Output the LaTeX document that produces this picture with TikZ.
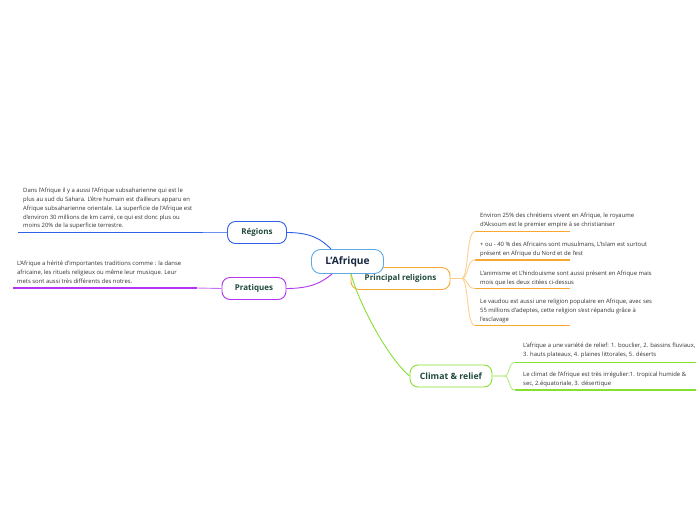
\documentclass[tikz,border=0pt]{standalone}
\usepackage{fontspec}
\setmainfont{Open Sans}
\usepackage{tikz}
\usetikzlibrary{positioning,calc}
\definecolor{zentral}{HTML}{5FA8E0}
\definecolor{blau}{HTML}{2F62E8}
\definecolor{lila}{HTML}{B233F0}
\definecolor{orange}{HTML}{F7A934}
\definecolor{gruen}{HTML}{86E032}
\definecolor{titel}{HTML}{1F4A3C}
\definecolor{haupt}{HTML}{17263F}
\definecolor{text}{HTML}{333333}
\tikzset{
  thema/.style={rounded corners=8pt,fill=white,line width=0.9pt,minimum height=22pt,
    inner sep=0pt,font=\fontsize{8}{9}\selectfont\bfseries,text=titel},
  mitte/.style={rounded corners=9pt,fill=white,draw=zentral,line width=0.9pt,minimum height=24pt,
    minimum width=72pt,inner sep=0pt,font=\fontsize{10.2}{11}\selectfont\bfseries,text=haupt},
  notiz/.style={anchor=north west,inner sep=0pt,align=left,text=text,
    font=\fontsize{5.9}{8.8}\selectfont},
  strich/.style={line width=1.6pt},
  ast/.style={line width=0.9pt},
}
\begin{document}
\begin{tikzpicture}[x=1pt,y=-1pt]
  \useasboundingbox (0,0) rectangle (696,520);
  % --- Hauptknoten ---
  \node[thema,draw=orange,minimum width=99pt] (rel) at (400.5,278.5) {Principal religions};
  \node[mitte] (afr) at (347.5,261.5) {L'Afrique};
  \node[thema,draw=blau,minimum width=59pt] (reg) at (257,232.5) {Régions};
  \node[thema,draw=lila,minimum width=64pt] (pra) at (254,288.5) {Pratiques};
  \node[thema,draw=gruen,minimum width=82pt,font=\fontsize{8.7}{9}\selectfont\bfseries] (cli) at (451,376) {Climat \& relief};
  % --- Äste vom Zentrum ---
  \draw[ast,blau] (reg.east) .. controls (312,232.5) and (322,240) .. ($(afr.north west)+(20,0)$);
  \draw[ast,lila] (pra.east) .. controls (312,288.5) and (322,282) .. ($(afr.south west)+(21,0)$);
  \draw[ast,gruen] ($(afr.south west)+(40,0)$) .. controls (357,298) and (385,355) .. (cli.west);
  % --- Régions ---
  \node[notiz] (regt) at (23,188) {Dans l'Afrique il y a aussi l'Afrique subsaharienne qui est le\\
    plus au sud du Sahara. L'être humain est d'ailleurs apparu en\\
    Afrique subsaharienne orientale. La superficie de l'Afrique est\\
    d'environ 30 millions de km carré, ce qui est donc plus ou\\
    moins 20\% de la superficie terrestre.};
  \coordinate (r1) at (18,232.5);
  \coordinate (r2) at (203,232.5);
  \draw[strich,blau] (r1)--(r2);
  \draw[ast,blau!70] (r2)--(reg.west);
  % --- Pratiques ---
  \node[notiz] (prat) at (17,261) {L'Afrique a hérité d'importantes traditions comme : la danse\\
    africaine, les rituels religieux ou même leur musique. Leur\\
    mets sont aussi très différents des notres.};
  \coordinate (p1) at (13,288);
  \coordinate (p2) at (197,288);
  \draw[strich,lila] (p1)--(p2);
  \draw[ast,lila!70] (p2)--(pra.west);
  % --- Religions ---
  \node[notiz] (rel1) at (480,212.5) {Environ 25\% des chrétiens vivent en Afrique, le royaume\\
    d'Aksoum est le premier empire à se christianiser};
  \node[notiz] (rel2) at (480,242) {+ ou - 40 \% des Africains sont musulmans, L'Islam est surtout\\
    présent en Afrique du Nord et de l'est};
  \node[notiz] (rel3) at (480,271) {L'animisme et L'hindouisme sont aussi présent en Afrique mais\\
    mois que les deux citées ci-dessus};
  \node[notiz] (rel4) at (480,299) {Le vaudou est aussi une religion populaire en Afrique, avec ses\\
    55 millions d'adeptes, cette religion s'est répandu grâce à\\
    l'esclavage};
  \foreach \n/\y in {1/231.5,2/260,3/288.5,4/325.5}{
    \coordinate (ra\n) at (475,\y);
    \coordinate (rb\n) at (570,\y);
    \draw[strich,orange] (ra\n)--(rb\n);
    \draw[ast,orange!55] (rel.east)--++(11,0) .. controls (469,278.5) and (466,\y) .. (ra\n);
  }
  % --- Climat ---
  \node[notiz] (cli1) at (523,342.5) {L'afrique a une variété de relief: 1. bouclier, 2. bassins fluviaux,\\
    3. hauts plateaux, 4. plaines littorales, 5. déserts};
  \node[notiz] (cli2) at (523,372) {Le climat de l'Afrique est très irrégulier:1. tropical humide \&\\
    sec, 2.équatoriale, 3. désertique};
  \foreach \n/\y in {1/362.5,2/390}{
    \coordinate (ca\n) at (515,\y);
    \coordinate (cb\n) at (696,\y);
    \draw[strich,gruen] (ca\n)--(cb\n);
    \draw[ast,gruen!60] (cli.east)--++(12,0) .. controls (510,376) and (508,\y) .. (ca\n);
  }
\end{tikzpicture}
\end{document}
